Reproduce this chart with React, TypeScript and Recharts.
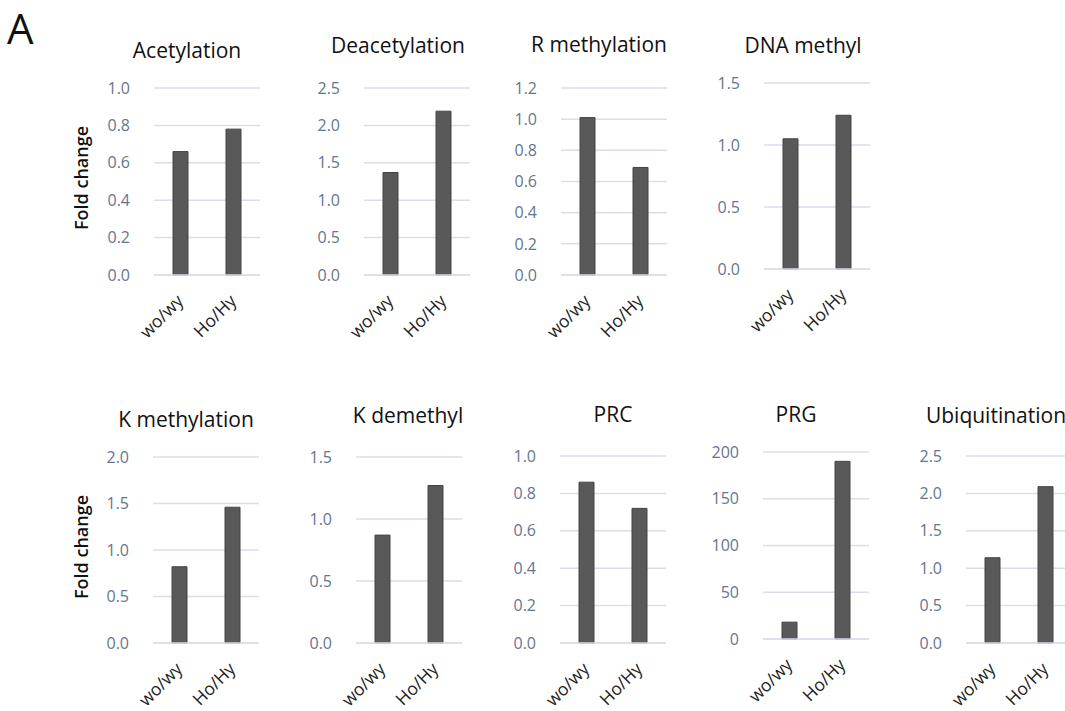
import { Bar, BarChart, CartesianGrid, XAxis, YAxis } from 'recharts';

// Sample groups on every x axis
const categories = ['wo/wy', 'Ho/Hy'];

// Fold change per group, one array per modification class
const acetylation = [0.66, 0.78];
const deacetylation = [1.37, 2.19];
const rMethylation = [1.01, 0.69];
const dnaMethyl = [1.05, 1.24];
const kMethylation = [0.82, 1.46];
const kDemethyl = [0.87, 1.27];
const prc = [0.86, 0.72];
const prg = [18, 190];
const ubiquitination = [1.14, 2.09];

// Y tick values
const ticksTo1 = [0, 0.2, 0.4, 0.6, 0.8, 1.0];
const ticksTo1p2 = [0, 0.2, 0.4, 0.6, 0.8, 1.0, 1.2];
const ticksTo1p5 = [0, 0.5, 1.0, 1.5];
const ticksTo2 = [0, 0.5, 1.0, 1.5, 2.0];
const ticksTo2p5 = [0, 0.5, 1.0, 1.5, 2.0, 2.5];
const ticksTo200 = [0, 50, 100, 150, 200];

const FONT = '"Open Sans", "Noto Sans", sans-serif';
const BAR = '#595959';
const GRID = '#d9dee8';
const TICK = '#66758f';
const PLOT_W = 106;
const AXIS_W = 60;
const PAGE_H = 711;

interface PanelDef {
  title: string;
  values: number[];
  ticks: number[];
  decimals: number;
  // plot area on the page
  x: number;
  y: number;
  h: number;
  titleX: number;
  titleY: number;
}

const panels: PanelDef[] = [
  { title: 'Acetylation', values: acetylation, ticks: ticksTo1, decimals: 1, x: 154, y: 88, h: 187, titleX: 187, titleY: 58 },
  { title: 'Deacetylation', values: deacetylation, ticks: ticksTo2p5, decimals: 1, x: 364, y: 88, h: 187, titleX: 398, titleY: 53 },
  { title: 'R methylation', values: rMethylation, ticks: ticksTo1p2, decimals: 1, x: 561, y: 88, h: 187, titleX: 599, titleY: 52 },
  { title: 'DNA methyl', values: dnaMethyl, ticks: ticksTo1p5, decimals: 1, x: 764, y: 83, h: 186, titleX: 803, titleY: 53 },
  { title: 'K methylation', values: kMethylation, ticks: ticksTo2, decimals: 1, x: 153, y: 457, h: 186, titleX: 186, titleY: 427 },
  { title: 'K demethyl', values: kDemethyl, ticks: ticksTo1p5, decimals: 1, x: 356, y: 457, h: 186, titleX: 408, titleY: 423 },
  { title: 'PRC', values: prc, ticks: ticksTo1, decimals: 1, x: 560, y: 456, h: 187, titleX: 613, titleY: 422 },
  { title: 'PRG', values: prg, ticks: ticksTo200, decimals: 0, x: 763, y: 452, h: 187, titleX: 796, titleY: 422 },
  { title: 'Ubiquitination', values: ubiquitination, ticks: ticksTo2p5, decimals: 1, x: 966, y: 456, h: 187, titleX: 996, titleY: 423 },
];

function SlantTick({ x, y, payload }: { x?: number; y?: number; payload?: { value: string } }) {
  const ax = (x ?? 0) + 4;
  const ay = (y ?? 0) + 19;
  return (
    <text
      x={ax}
      y={ay}
      transform={`rotate(-45, ${ax}, ${ay})`}
      textAnchor="end"
      fontSize={17.5}
      fontFamily={FONT}
      fill="#222"
    >
      {payload?.value}
    </text>
  );
}

function Panel({ p }: { p: PanelDef }) {
  const data = categories.map((name, i) => ({ name, value: p.values[i] }));
  const top = 10;
  // keep the axis band inside the page
  const xAxisH = Math.min(80, PAGE_H - (p.y + p.h));
  const width = AXIS_W + PLOT_W + 10;
  const height = top + p.h + xAxisH;
  const max = p.ticks[p.ticks.length - 1];
  return (
    <div style={{ position: 'absolute', left: p.x - AXIS_W, top: p.y - top }}>
      <BarChart
        width={width}
        height={height}
        data={data}
        margin={{ top, right: 10, bottom: 0, left: 0 }}
        barCategoryGap={0}
        style={{ overflow: 'visible' }}
      >
        <CartesianGrid vertical={false} stroke={GRID} strokeWidth={1.5} />
        <XAxis
          dataKey="name"
          height={xAxisH}
          axisLine={{ stroke: GRID, strokeWidth: 1.5 }}
          tickLine={false}
          interval={0}
          tick={<SlantTick />}
        />
        <YAxis
          width={AXIS_W}
          domain={[0, max]}
          ticks={p.ticks}
          axisLine={false}
          tickLine={false}
          tickSize={0}
          tickMargin={24}
          interval={0}
          tickFormatter={(v: number) => v.toFixed(p.decimals)}
          tick={{ fill: TICK, fontSize: 16, fontFamily: FONT }}
        />
        <Bar
          dataKey="value"
          fill={BAR}
          stroke="#444"
          strokeWidth={1}
          barSize={15}
          isAnimationActive={false}
        />
      </BarChart>
    </div>
  );
}

export default function App() {
  return (
    <div
      style={{
        position: 'absolute',
        left: 0,
        top: 0,
        width: 1065,
        height: PAGE_H,
        overflow: 'hidden',
        background: '#fff',
        fontFamily: FONT,
      }}
    >
      {panels.map((p) => (
        <Panel key={p.title} p={p} />
      ))}
      <svg
        width={1065}
        height={PAGE_H}
        style={{ position: 'absolute', left: 0, top: 0, pointerEvents: 'none' }}
      >
        <text x={7} y={44} fontSize={42} fontFamily={FONT} fill="#111">
          A
        </text>
        {panels.map((p) => (
          <text
            key={p.title}
            x={p.titleX}
            y={p.titleY}
            textAnchor="middle"
            fontSize={21}
            fontFamily={FONT}
            fill="#111"
          >
            {p.title}
          </text>
        ))}
        {[178, 547].map((cy) => (
          <text
            key={cy}
            x={0}
            y={0}
            transform={`translate(88, ${cy}) rotate(-90)`}
            textAnchor="middle"
            fontSize={18}
            fontWeight={600}
            fontFamily={FONT}
            fill="#111"
          >
            Fold change
          </text>
        ))}
      </svg>
    </div>
  );
}
